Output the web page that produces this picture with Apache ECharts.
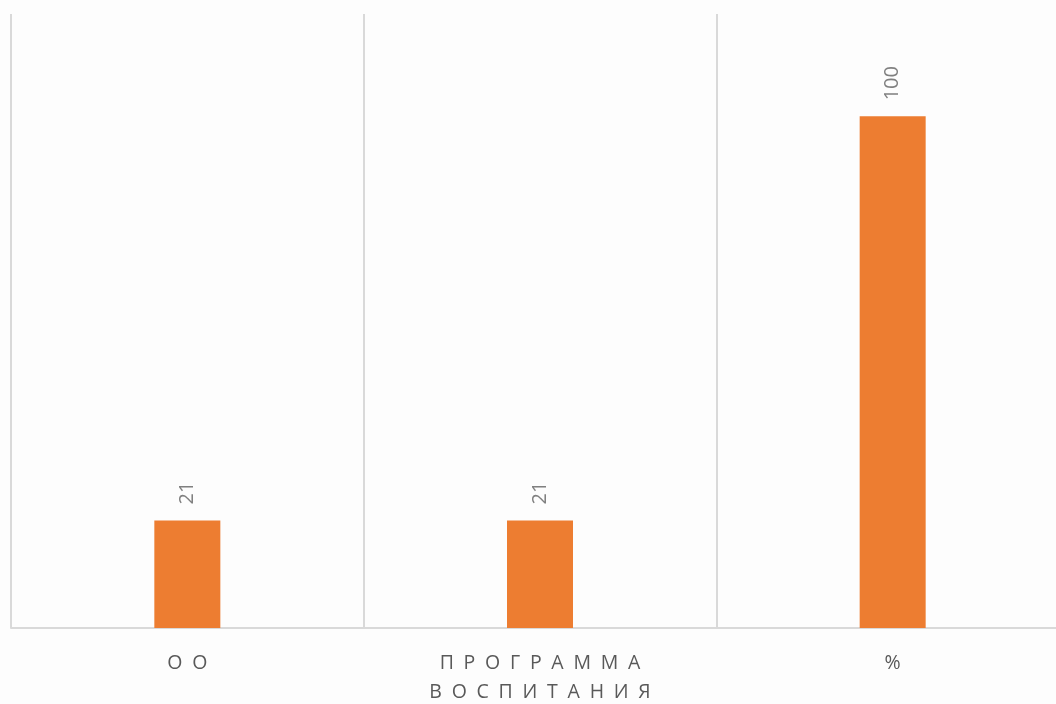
<!DOCTYPE html>
<html>
<head>
<meta charset="utf-8">
<script src="https://cdn.jsdelivr.net/npm/echarts@6/dist/echarts.min.js"></script>
<style>
html,body{margin:0;padding:0;background:#fdfdfd;}
#main{width:1056px;height:704px;}
</style>
</head>
<body>
<div id="main"></div>
<script>
const categories = ["ОО", "ПРОГРАММА ВОСПИТАНИЯ", "%"];
const values = [21, 21, 100];

const chart = echarts.init(document.getElementById('main'));
function spaced(s) {
  return s.split(' ').map(w => Array.from(w).join('\u2002')).join('\n');
}
chart.setOption({
  backgroundColor: '#fdfdfd',
  animation: false,
  grid: { left: 11, width: 1058, top: 14, height: 614, containLabel: false, outerBoundsMode: 'none' },
  xAxis: {
    type: 'category',
    data: categories,
    axisLine: { show: true, lineStyle: { color: '#d9d9d9', width: 2 } },
    axisTick: { show: false },
    splitLine: { show: true, lineStyle: { color: '#d9d9d9', width: 2 } },
    axisLabel: {
      formatter: v => spaced(v),
      color: '#595959',
      fontFamily: 'Open Sans',
      fontSize: 19.5,
      lineHeight: 29,
      margin: 21
    }
  },
  yAxis: {
    type: 'value',
    min: 0,
    max: 120,
    show: false,
    splitLine: { show: false }
  },
  series: [{
    type: 'bar',
    data: values,
    barWidth: 66,
    itemStyle: { color: '#ED7D31' },
    label: {
      show: true,
      position: 'top',
      rotate: 90,
      align: 'left',
      verticalAlign: 'middle',
      distance: 16,
      color: '#808080',
      fontFamily: 'Open Sans',
      fontSize: 20
    }
  }]
});
</script>
</body>
</html>
